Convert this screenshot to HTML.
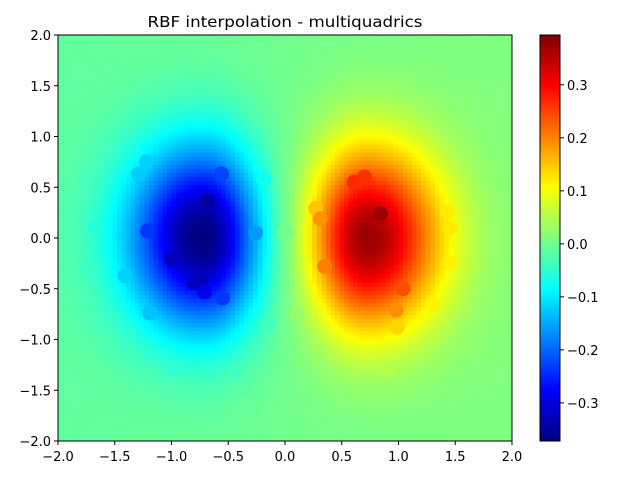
<!DOCTYPE html>
<html><head><meta charset="utf-8"><style>
body{margin:0;background:#fff;font-family:"DejaVu Sans","Liberation Sans",sans-serif;}
#wrap{position:relative;width:640px;height:480px;}
svg{position:absolute;left:0;top:0;}
canvas{position:absolute;image-rendering:pixelated;}
</style></head><body>
<div id="wrap">
<canvas id="field" width="100" height="100" style="left:58px;top:35px;width:454px;height:406px"></canvas>
<canvas id="cbar" width="1" height="200" style="left:540px;top:35px;width:20px;height:406px"></canvas>
<svg id="svg" width="640" height="480"></svg>
</div>
<script>
const pointX=[-0.56,-0.68,-1.22,-1.29,-1.21,-1.0,-1.41,-1.19,-0.8,-0.74,-0.71,-0.55,-0.26,-0.19,-1.67,0.27,0.31,0.35,0.61,0.7,0.84,1.04,0.98,0.99,1.43,1.45,1.45,1.3,-1.79,-1.65,-0.97,-0.66,-0.44,-0.36,-1.54,-1.81,-1.74,-0.63,0.0,-0.15,1.6,1.2,0.2,1.7,-1.1,0.5,1.8,0.9,-0.1,0.1];
const pointY=[0.63,0.37,0.75,0.63,0.07,-0.21,-0.37,-0.74,-0.44,-0.42,-0.53,-0.59,0.05,0.58,0.11,0.29,0.19,-0.28,0.55,0.6,0.24,-0.5,-0.71,-0.88,0.26,0.1,-0.24,-0.65,0.59,-0.86,-1.28,-1.34,-1.31,-1.47,-1.11,-0.74,-0.29,-1.75,0.05,-0.85,1.5,1.7,1.6,-1.1,1.85,-1.6,1.2,-1.3,1.6,-0.75];
const cbTicks=[-0.3,-0.2,-0.1,0.0,0.1,0.2,0.3];
const axTicks=[-2.0,-1.5,-1.0,-0.5,0.0,0.5,1.0,1.5,2.0];
const vmin=-0.372,vmax=0.394;
const X0=58,X1=512,Y0=35,Y1=441;
const sx=x=>X0+(x+2)/4*(X1-X0), sy=y=>Y1-(y+2)/4*(Y1-Y0);
function g(x,y){const d=Math.abs(x)-0.72;const s2=d<0?0.23:0.42;
 return 0.37*Math.tanh(x/0.12)*Math.exp(-d*d/s2-y*y/0.8)+0.006*x;}
const cl=v=>Math.max(0,Math.min(1,v));
function jet(v){const t=cl((v-vmin)/(vmax-vmin));
 return [cl(1.5-Math.abs(4*t-3)),cl(1.5-Math.abs(4*t-2)),cl(1.5-Math.abs(4*t-1))].map(c=>Math.round(c*255));}
const fc=document.getElementById('field').getContext('2d');const im=fc.createImageData(100,100);
for(let j=0;j<100;j++)for(let i=0;i<100;i++){const x=-2+(i+0.5)*0.04,y=2-(j+0.5)*0.04;const c=jet(g(x,y));const k=(j*100+i)*4;im.data[k]=c[0];im.data[k+1]=c[1];im.data[k+2]=c[2];im.data[k+3]=255;}
fc.putImageData(im,0,0);
const cc=document.getElementById('cbar').getContext('2d');
for(let j=0;j<200;j++){const c=jet(vmax-(j+0.5)/200*(vmax-vmin));cc.fillStyle=`rgb(${c})`;cc.fillRect(0,j,1,1);}
const svg=document.getElementById('svg');const NS='http://www.w3.org/2000/svg';
function el(t,a,txt){const e=document.createElementNS(NS,t);for(const k in a)e.setAttribute(k,a[k]);if(txt!==undefined)e.textContent=txt;svg.appendChild(e);return e;}
const fmt=v=>(v<0?'\u2212':'')+Math.abs(v).toFixed(1);
for(let i=0;i<pointX.length;i++){const c=jet(1.1*g(pointX[i],pointY[i]));
 const p=el('circle',{cx:sx(pointX[i]),cy:sy(pointY[i]),r:7.5,fill:`rgb(${c})`});
 
 }
const fr=el('rect',{x:X0,y:Y0,width:X1-X0,height:Y1-Y0,fill:'none',stroke:'#000','stroke-width':1});

const cf=el('rect',{x:540,y:35,width:20,height:406,fill:'none',stroke:'#000','stroke-width':1});

axTicks.forEach(v=>{
 el('line',{x1:sx(v),x2:sx(v),y1:Y1,y2:Y1+4,stroke:'#000'});
 const tx=el('text',{x:sx(v),y:Y1+20,'font-size':13,'text-anchor':'middle'},fmt(v));
 
 el('line',{x1:X0-4,x2:X0,y1:sy(v),y2:sy(v),stroke:'#000'});
 const ty=el('text',{x:X0-7,y:sy(v)+5,'font-size':13,'text-anchor':'end'},fmt(v));
 
});
cbTicks.forEach(v=>{const y=Y1-(v-vmin)/(vmax-vmin)*(Y1-Y0);
 el('line',{x1:560,x2:564,y1:y,y2:y,stroke:'#000'});
 const t=el('text',{x:567,y:y+5,'font-size':13},fmt(v));
 });
const ti=el('text',{x:285,y:27,'font-size':15,'text-anchor':'middle',textLength:275,lengthAdjust:'spacingAndGlyphs'},'RBF interpolation - multiquadrics');

</script>
</body></html>
